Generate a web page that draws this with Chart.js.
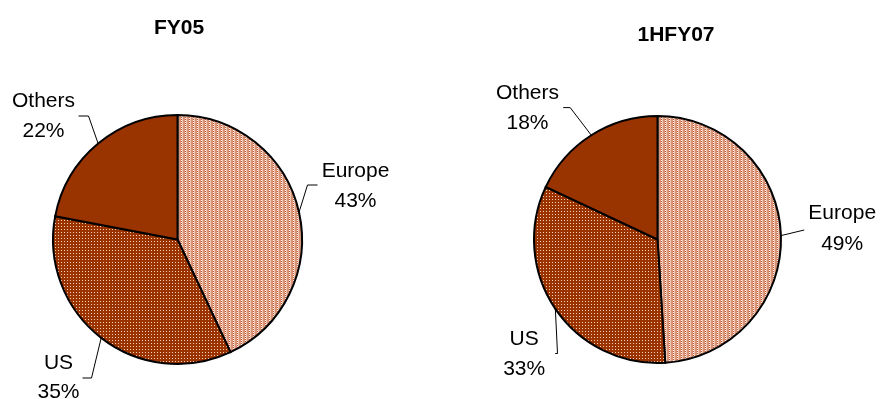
<!DOCTYPE html>
<html>
<head>
<meta charset="utf-8">
<script src="https://cdn.jsdelivr.net/npm/chart.js@4/dist/chart.umd.min.js"></script>
<style>
  html, body { margin: 0; padding: 0; background: #ffffff; }
  #wrap { position: relative; width: 880px; height: 399px; overflow: hidden; }
  .box { position: absolute; top: 0; width: 440px; height: 399px; }
  #boxL { left: 0; }
  #boxR { left: 440px; }
</style>
</head>
<body>
<div id="wrap">
  <div class="box" id="boxL"><canvas id="cL" width="440" height="399"></canvas></div>
  <div class="box" id="boxR"><canvas id="cR" width="440" height="399"></canvas></div>
</div>
<script>
// ---- data ----
const categories = ['Europe', 'US', 'Others'];
const fy05Values = [43, 35, 22];
const h1fy07Values = [49, 33, 18];
const chartTitles = ['FY05', '1HFY07'];

// ---- patterns ----
function makePattern(w, h, draw) {
  const c = document.createElement('canvas');
  c.width = w; c.height = h;
  const x = c.getContext('2d');
  draw(x);
  return x.createPattern(c, 'repeat');
}
function px(x, col, i, j) { x.fillStyle = col; x.fillRect(i, j, 1, 1); }
const europePattern = makePattern(4, 2, (x) => {
  x.fillStyle = '#D99478'; x.fillRect(0, 0, 4, 2);
  px(x, '#FFFFFF', 1, 0); px(x, '#C24E28', 1, 1);
  px(x, '#E9BBA6', 2, 0); px(x, '#F2D2C2', 2, 1);
});
const usPattern = makePattern(3, 3, (x) => {
  x.fillStyle = '#9A3300'; x.fillRect(0, 0, 3, 3);
  px(x, '#F6D2B6', 1, 1);
});
const othersColor = '#993300';
const sliceFills = [europePattern, usPattern, othersColor];

// ---- callout plugin ----
const FONT = '"Liberation Sans", Arial, sans-serif';
const calloutPlugin = {
  id: 'callouts',
  afterDatasetsDraw(chart) {
    const cfg = chart.options.plugins.callouts;
    if (!cfg) return;
    const ctx = chart.ctx;
    const meta = chart.getDatasetMeta(0);
    const values = chart.data.datasets[0].data;
    ctx.save();
    meta.data.forEach((arc, i) => {
      const p = arc.getProps(['x', 'y', 'startAngle', 'endAngle', 'outerRadius'], true);
      const mid = (p.startAngle + p.endAngle) / 2;
      const ex = p.x + Math.cos(mid) * p.outerRadius;
      const ey = p.y + Math.sin(mid) * p.outerRadius;
      const c = cfg.items[i];
      ctx.strokeStyle = '#000000';
      ctx.lineWidth = 1;
      ctx.beginPath();
      ctx.moveTo(ex, ey);
      ctx.lineTo(p.x + c.elbow[0], p.y + c.elbow[1]);
      ctx.lineTo(p.x + c.end[0], p.y + c.end[1]);
      ctx.stroke();
      ctx.fillStyle = '#000000';
      ctx.font = cfg.size + 'px ' + FONT;
      ctx.textAlign = 'center';
      ctx.textBaseline = 'alphabetic';
      const off = cfg.size * 0.358;
      ctx.fillText(chart.data.labels[i], p.x + c.lx, p.y + c.ly1 + off);
      ctx.fillText(values[i] + '%', p.x + c.lx, p.y + c.ly2 + off);
    });
    // title
    const t = cfg.title;
    ctx.font = 'bold ' + t.size + 'px ' + FONT;
    ctx.textAlign = 'center';
    ctx.fillText(t.text, t.x, t.y + t.size * 0.358);
    ctx.restore();
  }
};

function makeChart(id, values, title, padding, callouts) {
  return new Chart(document.getElementById(id), {
    type: 'pie',
    data: {
      labels: categories,
      datasets: [{
        data: values,
        backgroundColor: sliceFills,
        borderColor: '#000000',
        borderWidth: 2,
        borderJoinStyle: 'miter'
      }]
    },
    options: {
      responsive: false,
      animation: false,
      devicePixelRatio: 1,
      layout: { padding: padding },
      plugins: {
        legend: { display: false },
        tooltip: { enabled: false },
        callouts: Object.assign({ title: title }, callouts)
      }
    },
    plugins: [calloutPlugin]
  });
}

makeChart('cL', fy05Values,
  { text: chartTitles[0], x: 179, y: 26, size: 21 },
  { left: 52, top: 114, right: 137, bottom: 34 },
  {
    size: 21,
    items: [
      { elbow: [130, -54.5], end: [140, -54.5], lx: 178, ly1: -70.5, ly2: -40 },
      { elbow: [-86, 138.5], end: [-95, 138.5], lx: -119, ly1: 121.8, ly2: 151 },
      { elbow: [-89, -123.5], end: [-99, -123.5], lx: -134, ly1: -140.3, ly2: -109.8 }
    ]
  });

makeChart('cR', h1fy07Values,
  { text: chartTitles[1], x: 236, y: 33, size: 21 },
  { left: 93, top: 115, right: 98, bottom: 35 },
  {
    size: 21,
    items: [
      { elbow: [146.7, -9.5], end: [146.7, -9.5], lx: 184.7, ly1: -27.7, ly2: 3.3 },
      { elbow: [-100, 114], end: [-102.3, 114], lx: -133.3, ly1: 98.3, ly2: 128.3 },
      { elbow: [-87.3, -131.9], end: [-94.3, -131.9], lx: -130, ly1: -148.4, ly2: -118.2 }
    ]
  });
</script>
</body>
</html>
